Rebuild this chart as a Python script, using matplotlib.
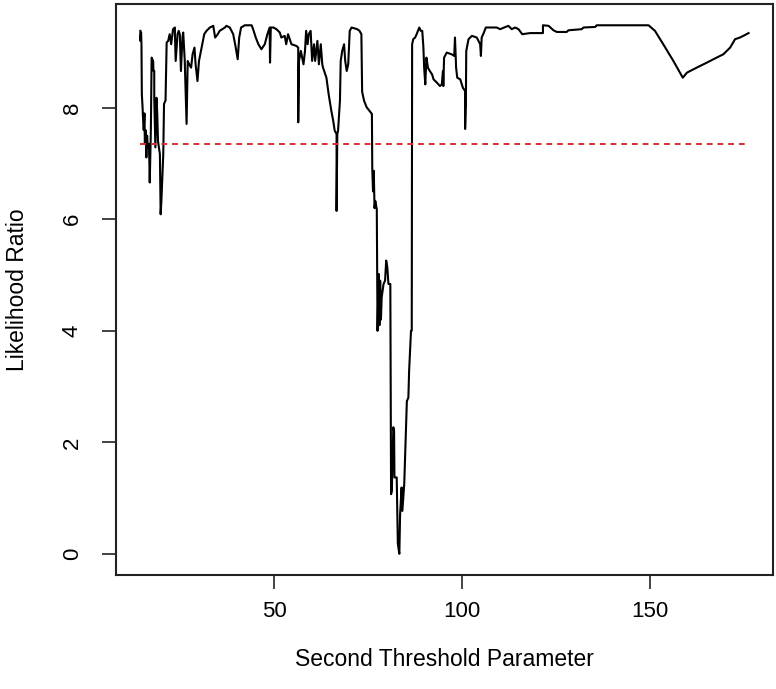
import matplotlib
matplotlib.use("Agg")
import matplotlib.pyplot as plt

# likelihood ratio profile over the second threshold parameter
threshold = [
    14.4, 14.4, 14.6, 14.7, 14.8, 15.0, 15.1, 15.3, 15.5, 15.6, 15.8, 16.0, 16.2, 16.4, 16.7, 16.9,
    17.2, 17.4, 17.8, 17.9, 18.1, 18.1, 18.4, 18.7, 18.9, 19.1, 19.6, 19.8, 20.0, 20.5, 20.7, 21.1,
    21.4, 21.8, 22.2, 22.6, 23.1, 23.6, 23.6, 23.8, 24.3, 24.6, 24.9, 25.2, 25.6, 25.8, 26.2, 26.7,
    27.0, 27.4, 27.9, 28.3, 28.8, 29.1, 29.6, 30.0, 30.7, 31.4, 32.0, 32.9, 33.8, 34.3, 35.0, 35.5,
    36.2, 36.9, 37.3, 38.2, 39.1, 39.7, 40.3, 40.7, 41.2, 42.2, 44.0, 44.4, 45.1, 45.8, 46.6, 47.5,
    48.2, 48.8, 48.9, 49.1, 49.8, 50.6, 51.5, 51.9, 52.8, 53.2, 53.7, 54.6, 55.9, 56.4, 56.4, 56.6,
    57.1, 57.8, 58.2, 58.5, 58.9, 59.2, 59.7, 60.1, 60.6, 60.9, 61.5, 61.9, 62.4, 62.8, 63.0, 63.9,
    64.5, 65.2, 65.7, 66.1, 66.6, 66.6, 66.8, 67.0, 67.5, 67.7, 68.1, 68.6, 68.9, 69.3, 69.7, 70.1,
    70.6, 72.1, 72.7, 73.2, 73.4, 73.9, 74.6, 75.3, 76.0, 76.1, 76.3, 76.5, 76.7, 76.9, 77.3, 77.5,
    77.8, 78.0, 78.2, 78.4, 78.6, 79.1, 79.5, 79.8, 80.1, 80.4, 80.9, 81.0, 81.1, 81.3, 81.7, 81.9,
    82.0, 82.6, 82.9, 83.3, 83.5, 83.9, 84.1, 84.6, 84.8, 85.3, 85.7, 85.9, 86.4, 86.6, 86.7, 87.0,
    87.5, 87.9, 88.6, 89.0, 89.4, 89.7, 89.9, 90.2, 90.5, 90.9, 91.4, 92.0, 92.4, 93.3, 94.1, 94.6,
    94.9, 95.0, 95.2, 95.9, 97.2, 97.9, 98.1, 98.4, 98.7, 99.5, 100.2, 100.8, 100.8, 101.0, 101.1, 101.7,
    102.6, 103.9, 104.8, 105.0, 105.2, 105.8, 106.3, 107.4, 109.2, 110.1, 111.2, 112.3, 113.2, 114.1, 115.0, 116.0,
    118.1, 120.7, 121.5, 121.5, 123.0, 124.3, 125.2, 127.8, 128.3, 131.8, 132.3, 135.4, 135.8, 149.6, 151.3, 153.5,
    156.2, 158.7, 159.8, 162.4, 165.1, 167.7, 169.5, 171.3, 172.6, 173.9, 174.8, 176.2,
]
likelihood = [
    9.38, 9.20, 9.35, 9.15, 8.24, 8.00, 7.83, 7.60, 7.90, 7.35, 7.60, 7.11, 7.50, 7.29, 7.35, 6.66,
    7.60, 8.90, 8.84, 8.66, 8.66, 8.18, 7.29, 8.18, 7.89, 7.40, 7.17, 6.09, 6.33, 7.17, 8.07, 8.13,
    9.17, 9.20, 9.32, 9.14, 9.41, 9.44, 9.32, 8.84, 9.32, 9.38, 9.32, 8.66, 9.26, 9.35, 8.87, 7.71,
    8.84, 8.78, 8.72, 8.96, 9.08, 8.78, 8.48, 8.84, 9.08, 9.32, 9.38, 9.44, 9.47, 9.26, 9.32, 9.38,
    9.41, 9.44, 9.47, 9.44, 9.32, 9.11, 8.87, 9.26, 9.44, 9.48, 9.48, 9.41, 9.26, 9.14, 9.05, 9.14,
    9.32, 9.44, 8.81, 9.44, 9.44, 9.41, 9.35, 9.26, 9.29, 9.14, 9.32, 9.14, 9.11, 9.08, 7.74, 8.84,
    9.02, 8.78, 9.02, 9.38, 9.14, 9.32, 9.38, 8.84, 9.14, 8.84, 9.20, 8.78, 9.14, 8.78, 8.72, 8.54,
    8.24, 7.95, 7.77, 7.59, 7.53, 6.15, 7.53, 7.59, 8.13, 8.84, 9.02, 9.14, 8.84, 8.66, 8.78, 9.38,
    9.44, 9.41, 9.38, 9.32, 8.29, 8.13, 8.01, 7.95, 7.89, 6.90, 6.50, 6.87, 6.20, 6.33, 6.18, 4.00,
    5.02, 4.10, 4.90, 4.20, 4.60, 4.84, 4.90, 5.26, 5.14, 4.84, 4.84, 3.04, 1.07, 1.13, 2.27, 2.20,
    1.37, 1.37, 0.18, 0.00, 0.71, 1.19, 0.77, 1.25, 1.67, 2.74, 2.80, 3.28, 4.00, 4.00, 9.14, 9.23,
    9.26, 9.32, 9.44, 9.38, 9.38, 9.08, 8.72, 8.42, 8.90, 8.72, 8.66, 8.60, 8.51, 8.45, 8.39, 8.42,
    8.66, 8.39, 8.90, 8.99, 8.96, 8.93, 9.26, 8.72, 8.54, 8.51, 8.36, 8.30, 7.62, 8.13, 9.02, 9.23,
    9.29, 9.26, 9.14, 8.93, 9.26, 9.35, 9.44, 9.44, 9.44, 9.41, 9.44, 9.47, 9.41, 9.44, 9.41, 9.32,
    9.34, 9.34, 9.34, 9.48, 9.47, 9.39, 9.36, 9.36, 9.39, 9.41, 9.44, 9.45, 9.48, 9.48, 9.38, 9.14,
    8.84, 8.54, 8.63, 8.72, 8.81, 8.90, 8.96, 9.08, 9.23, 9.26, 9.29, 9.34,
]
cutoff = 7.35
x_ticks = [50, 100, 150]
y_ticks = [0, 2, 4, 6, 8]

plt.rcParams['font.family'] = ['Liberation Sans', 'DejaVu Sans']

fig = plt.figure(figsize=(7.76, 6.89), dpi=100)
ax = fig.add_axes([0.1495, 0.1655, 0.8465, 0.8285])

ax.plot(threshold, likelihood, color='black', lw=1.5)
ax.plot([min(threshold), max(threshold)], [cutoff, cutoff], color='#d23030',
        lw=1.4, ls=(0, (3, 2.5)))

xr = max(threshold) - min(threshold)
yr = max(likelihood) - min(likelihood)
ax.set_xlim(min(threshold) - 0.04 * xr, max(threshold) + 0.04 * xr)
ax.set_ylim(min(likelihood) - 0.04 * yr, max(likelihood) + 0.04 * yr)

ax.set_xticks(x_ticks)
ax.set_yticks(y_ticks)
ax.set_yticklabels([str(v) for v in y_ticks], rotation=90, va='center')
ax.tick_params(direction='out', length=10, width=1.2, labelsize=16, color='#222222')
ax.tick_params(axis='x', pad=9)
ax.tick_params(axis='y', pad=14)
for s in ax.spines.values():
    s.set_linewidth(1.5)
    s.set_color('#222222')

ax.set_xlabel('Second Threshold Parameter', fontsize=16.5, va='center')
ax.set_ylabel('Likelihood Ratio', fontsize=16.5, va='center')
ax.xaxis.set_label_coords(0.5, -0.148)
ax.yaxis.set_label_coords(-0.150, 0.5)

fig.savefig('out.png', dpi=100)
